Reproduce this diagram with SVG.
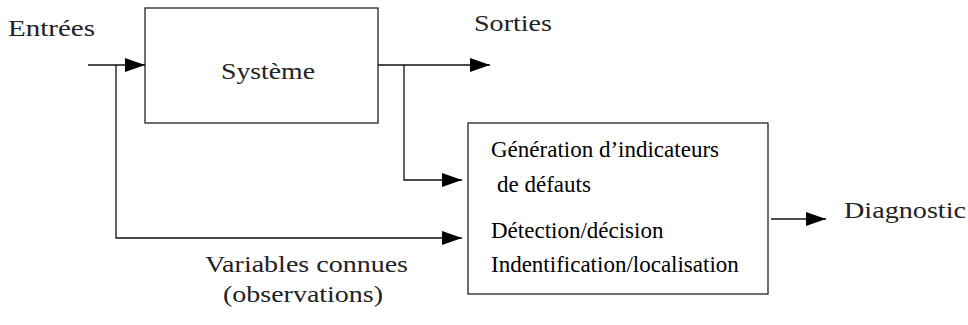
<svg xmlns="http://www.w3.org/2000/svg" width="968" height="325" viewBox="0 0 968 325">
<style>
.box{fill:#fff;stroke:#222;stroke-width:1.3}
.ln{fill:none;stroke:#111;stroke-width:1.3}
text{font-family:'Liberation Serif','DejaVu Serif',serif}
.cm{font-size:24px;fill:#222}
.tm{font-size:23px;fill:#000}
</style>
<defs>
<marker id="ah" markerWidth="20" markerHeight="14" refX="20" refY="7" orient="auto" markerUnits="userSpaceOnUse">
<path d="M0,0 L20,7 L0,14 Z" fill="#000"/>
</marker>
</defs>
<rect width="968" height="325" fill="#fff"/>
<g id="systeme">
<rect class="box" x="145" y="8" width="233" height="115"/>
<text class="cm" x="221" y="79" textLength="94" lengthAdjust="spacingAndGlyphs">Système</text>
</g>
<g id="diagnostic-box">
<rect class="box" x="468" y="123" width="300" height="171"/>
<text class="tm" x="491" y="157">Génération d’indicateurs</text>
<text class="tm" x="497" y="192">de défauts</text>
<text class="tm" x="491" y="238">Détection/décision</text>
<text class="tm" x="491" y="272">Indentification/localisation</text>
</g>
<g id="labels">
<text class="cm" x="8" y="36" textLength="87" lengthAdjust="spacingAndGlyphs">Entrées</text>
<text class="cm" x="474" y="31" textLength="78" lengthAdjust="spacingAndGlyphs">Sorties</text>
<text class="cm" x="844" y="218" textLength="122" lengthAdjust="spacingAndGlyphs">Diagnostic</text>
<text class="cm" x="205" y="272" textLength="203" lengthAdjust="spacingAndGlyphs">Variables connues</text>
<text class="cm" x="223" y="302" textLength="160" lengthAdjust="spacingAndGlyphs">(observations)</text>
</g>
<g id="connectors">
<path class="ln" d="M88,65 H145" marker-end="url(#ah)"/>
<path class="ln" d="M378,65 H490" marker-end="url(#ah)"/>
<path class="ln" d="M116,65 V238 H462" marker-end="url(#ah)"/>
<path class="ln" d="M404,65 V180 H462" marker-end="url(#ah)"/>
<path class="ln" d="M771,219 H826" marker-end="url(#ah)"/>
</g>
</svg>
